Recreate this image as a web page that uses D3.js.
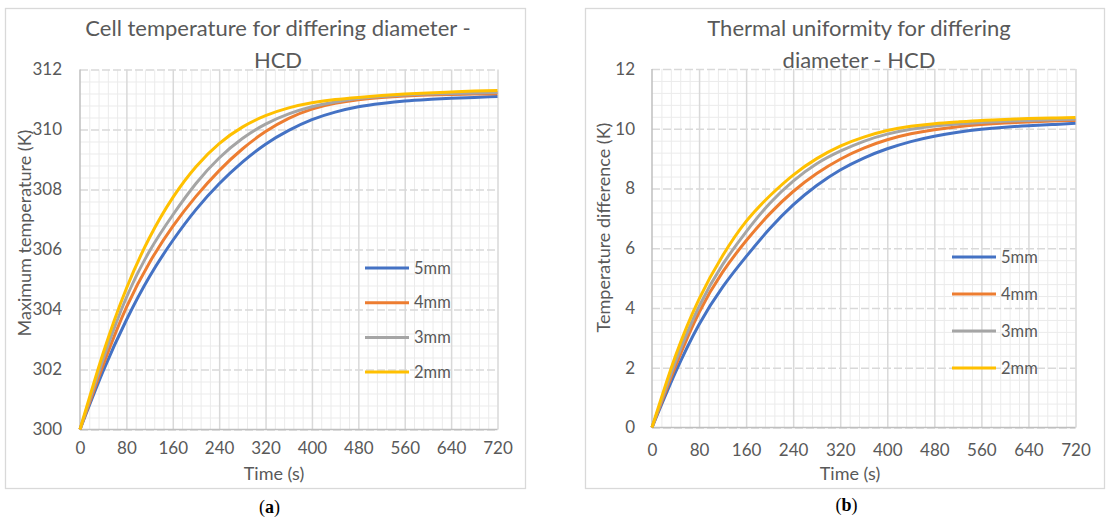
<!DOCTYPE html>
<html>
<head>
<meta charset="utf-8">
<script src="https://cdn.jsdelivr.net/npm/d3@7"></script>
<style>
  html, body { margin: 0; padding: 0; background: #ffffff; }
  svg { display: block; }
  text { font-family: "Lato", "Open Sans", sans-serif; fill: #595959; }
</style>
</head>
<body>
<svg id="chart" width="1109" height="519"></svg>
<script>
// ---------- data ----------
const timeS = [0, 40, 80, 120, 160, 200, 240, 280, 320, 360, 400, 440, 480, 520, 560, 600, 640, 680, 720];
const seriesNames = ["5mm", "4mm", "3mm", "2mm"];
const seriesColors = ["#4472C4", "#ED7D31", "#A5A5A5", "#FFC000"];

// (a) maximum cell temperature (K)
const maxTemp5mm = [300, 301.95, 303.65, 305.1, 306.3, 307.33, 308.19, 308.91, 309.51, 309.97, 310.33, 310.58, 310.76, 310.87, 310.95, 311.0, 311.04, 311.07, 311.1];
const maxTemp4mm = [300, 302.15, 304.07, 305.57, 306.77, 307.77, 308.63, 309.35, 309.93, 310.37, 310.68, 310.87, 310.99, 311.07, 311.12, 311.15, 311.17, 311.18, 311.19];
const maxTemp3mm = [300, 302.35, 304.4, 305.95, 307.15, 308.2, 309.05, 309.7, 310.18, 310.52, 310.76, 310.92, 311.03, 311.1, 311.15, 311.18, 311.2, 311.22, 311.23];
const maxTemp2mm = [300, 302.55, 304.7, 306.4, 307.73, 308.76, 309.53, 310.08, 310.46, 310.72, 310.89, 311.0, 311.07, 311.13, 311.18, 311.22, 311.25, 311.28, 311.3];

// (b) temperature difference (K)
const tempDiff5mm = [0, 1.85, 3.45, 4.7, 5.72, 6.65, 7.45, 8.1, 8.62, 9.02, 9.33, 9.57, 9.75, 9.88, 9.98, 10.05, 10.1, 10.14, 10.18];
const tempDiff4mm = [0, 2.05, 3.85, 5.2, 6.25, 7.15, 7.9, 8.5, 8.98, 9.35, 9.63, 9.83, 9.97, 10.07, 10.14, 10.19, 10.23, 10.26, 10.28];
const tempDiff3mm = [0, 2.2, 4.05, 5.45, 6.55, 7.5, 8.25, 8.83, 9.25, 9.58, 9.82, 9.98, 10.09, 10.16, 10.21, 10.25, 10.28, 10.3, 10.32];
const tempDiff2mm = [0, 2.4, 4.3, 5.75, 6.9, 7.75, 8.45, 9.0, 9.42, 9.72, 9.94, 10.08, 10.17, 10.23, 10.28, 10.31, 10.34, 10.36, 10.38];

// ticks
const xTicks = [0, 80, 160, 240, 320, 400, 480, 560, 640, 720];
const yTicksA = [300, 302, 304, 306, 308, 310, 312];
const yTicksB = [0, 2, 4, 6, 8, 10, 12];

// texts
const titleA = ["Cell temperature for differing diameter -", "HCD"];
const titleB = ["Thermal uniformity for differing", "diameter - HCD"];
const xTitle = "Time (s)";
const yTitleA = "Maximum temperature (K)";
const yTitleB = "Temperature difference (K)";

// ---------- drawing ----------
const svg = d3.select("#chart");

function drawPanel(cfg) {
  const g = svg.append("g");
  // outer box
  g.append("rect").attr("x", cfg.box[0] + 0.5).attr("y", cfg.box[1] + 0.5)
    .attr("width", cfg.box[2] - cfg.box[0]).attr("height", cfg.box[3] - cfg.box[1])
    .attr("fill", "#fff").attr("stroke", "#d9d9d9").attr("stroke-width", 1.3);

  const x = d3.scaleLinear().domain([0, 720]).range(cfg.xr);
  const y = d3.scaleLinear().domain(cfg.yd).range(cfg.yr);

  // minor gridlines
  const minorX = d3.range(0, 720.001, 16).filter(v => v % 80 !== 0);
  const step = (cfg.yd[1] - cfg.yd[0]) / 30;
  const minorY = d3.range(0, 31).map(i => cfg.yd[0] + i * step).filter((v, i) => i % 5 !== 0);
  g.append("g").attr("transform", `translate(0,${cfg.yr[0]})`)
    .call(d3.axisBottom(x).tickValues(minorX).tickSize(cfg.yr[1] - cfg.yr[0]).tickFormat(""))
    .call(s => s.select(".domain").remove())
    .call(s => s.selectAll("line").attr("stroke", "#ebebeb").attr("stroke-width", 1));
  g.append("g").attr("transform", `translate(${cfg.xr[0]},0)`)
    .call(d3.axisRight(y).tickValues(minorY).tickSize(cfg.xr[1] - cfg.xr[0]).tickFormat(""))
    .call(s => s.select(".domain").remove())
    .call(s => s.selectAll("line").attr("stroke", "#ebebeb").attr("stroke-width", 1));

  // major gridlines
  g.append("g").attr("transform", `translate(${cfg.xr[0]},0)`)
    .call(d3.axisRight(y).tickValues(cfg.yTicks).tickSize(cfg.xr[1] - cfg.xr[0]).tickFormat(""))
    .call(s => s.select(".domain").remove())
    .call(s => s.selectAll("line").attr("stroke", "#d9d9d9").attr("stroke-width", 1.5).attr("stroke-dasharray", "8,3"));
  g.append("g").attr("transform", `translate(0,${cfg.yr[0]})`)
    .call(d3.axisBottom(x).tickValues(xTicks.slice(1)).tickSize(cfg.yr[1] - cfg.yr[0]).tickFormat(""))
    .call(s => s.select(".domain").remove())
    .call(s => s.selectAll("line").attr("stroke", "#d9d9d9").attr("stroke-width", 1.5));

  // axis lines
  g.append("line").attr("x1", cfg.xr[0]).attr("x2", cfg.xr[1]).attr("y1", cfg.yr[0]).attr("y2", cfg.yr[0])
    .attr("stroke", "#bfbfbf").attr("stroke-width", 1.5);
  g.append("line").attr("x1", cfg.xr[0]).attr("x2", cfg.xr[0]).attr("y1", cfg.yr[0]).attr("y2", cfg.yr[1])
    .attr("stroke", "#bfbfbf").attr("stroke-width", 1.5);

  // tick labels
  g.append("g").attr("transform", `translate(0,${cfg.xLabelY})`)
    .call(d3.axisBottom(x).tickValues(xTicks).tickSize(0).tickPadding(0))
    .call(s => s.select(".domain").remove())
    .call(s => s.selectAll("text").attr("dy", "0.35em").attr("font-size", 17).attr("fill", "#595959")
      .attr("font-family", "Lato, 'Open Sans', sans-serif"));
  g.append("g").attr("transform", `translate(${cfg.yLabelX},0)`)
    .call(d3.axisLeft(y).tickValues(cfg.yTicks).tickSize(0).tickPadding(0))
    .call(s => s.select(".domain").remove())
    .call(s => s.selectAll("text").attr("font-size", 17).attr("fill", "#595959")
      .attr("font-family", "Lato, 'Open Sans', sans-serif"));

  // series lines
  const line = d3.line().x((d, i) => x(timeS[i])).y(d => y(d)).curve(d3.curveNatural);
  cfg.series.forEach((s, k) => {
    g.append("path").datum(s).attr("d", line).attr("fill", "none")
      .attr("stroke", seriesColors[k]).attr("stroke-width", 3).attr("stroke-linejoin", "round");
  });

  // legend
  seriesNames.forEach((name, k) => {
    const ly = cfg.legend.y0 + k * cfg.legend.dy;
    g.append("line").attr("x1", cfg.legend.x0).attr("x2", cfg.legend.x1).attr("y1", ly).attr("y2", ly)
      .attr("stroke", seriesColors[k]).attr("stroke-width", 3);
    g.append("text").attr("x", cfg.legend.x1 + 5).attr("y", ly).attr("dy", "0.35em")
      .attr("font-size", 16.5).text(name);
  });

  // title
  cfg.title.forEach((t, i) => {
    g.append("text").attr("x", cfg.titleX).attr("y", cfg.titleY[i]).attr("dy", "0.35em")
      .attr("text-anchor", "middle").attr("font-size", 22).text(t);
  });

  // axis titles
  g.append("text").attr("x", cfg.xTitlePos[0]).attr("y", cfg.xTitlePos[1]).attr("dy", "0.35em")
    .attr("text-anchor", "middle").attr("font-size", 18).text(xTitle);
  g.append("text").attr("transform", `translate(${cfg.yTitlePos[0]},${cfg.yTitlePos[1]}) rotate(-90)`)
    .attr("dy", "0.35em").attr("text-anchor", "middle").attr("font-size", 18).text(cfg.yTitle);

  // panel label
  const lab = svg.append("text").attr("x", cfg.labelPos[0]).attr("y", cfg.labelPos[1])
    .attr("text-anchor", "middle").attr("font-size", 18)
    .style("font-family", "'Liberation Serif', 'DejaVu Serif', serif").style("fill", "#000");
  lab.append("tspan").text("(");
  lab.append("tspan").attr("font-weight", "bold").text(cfg.label);
  lab.append("tspan").text(")");
}

drawPanel({
  box: [5, 8, 525, 488],
  xr: [80, 497.5], yd: [300, 312], yr: [429.5, 69.5],
  yTicks: yTicksA,
  series: [maxTemp5mm, maxTemp4mm, maxTemp3mm, maxTemp2mm],
  xLabelY: 448.5, yLabelX: 62,
  legend: { x0: 365, x1: 409, y0: 268, dy: 34.7 },
  title: titleA, titleX: 278, titleY: [28.5, 60],
  xTitlePos: [274, 474], yTitlePos: [25, 233], yTitle: yTitleA,
  label: "a", labelPos: [269.5, 513]
});

drawPanel({
  box: [585, 8, 1104, 488],
  xr: [652, 1075.5], yd: [0, 12], yr: [427.5, 69],
  yTicks: yTicksB,
  series: [tempDiff5mm, tempDiff4mm, tempDiff3mm, tempDiff2mm],
  xLabelY: 450.5, yLabelX: 635,
  legend: { x0: 952, x1: 996, y0: 257, dy: 37 },
  title: titleB, titleX: 859, titleY: [28.5, 60],
  xTitlePos: [850, 473.5], yTitlePos: [603.5, 227.5], yTitle: yTitleB,
  label: "b", labelPos: [846.5, 511]
});
</script>
</body>
</html>
